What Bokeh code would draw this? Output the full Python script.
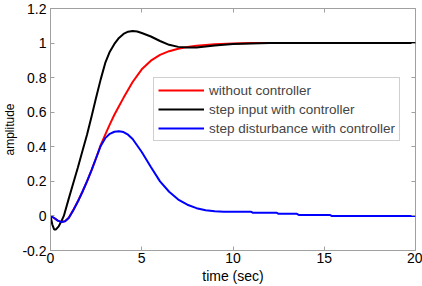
from bokeh.plotting import figure
from bokeh.models import LinearAxis, FixedTicker, Legend, LegendItem
from bokeh.embed import file_html
from bokeh.resources import INLINE

# ---- data ----
t_red = [0, 0.2, 0.4, 0.6, 0.8, 1.0, 1.25, 1.5, 1.75, 2.0, 2.25, 2.5, 2.75, 3.0, 3.25, 3.5,
         3.75, 4.0, 4.5, 5.0, 5.5, 6.0, 6.5, 7.0, 7.5, 8.0, 9.0, 10.0, 11.0, 20.0]
y_red = [0, -0.012, -0.027, -0.035, -0.03, -0.01, 0.035, 0.085, 0.14, 0.2, 0.265, 0.335,
         0.41, 0.47, 0.53, 0.585, 0.635, 0.683, 0.775, 0.848, 0.898, 0.932, 0.953, 0.967,
         0.977, 0.985, 0.993, 0.998, 1.0, 1.0]

t_black = [0, 0.1, 0.2, 0.3, 0.45, 0.6, 0.73, 1.0, 1.25, 1.5, 1.75, 2.0, 2.25, 2.5, 2.75,
           3.0, 3.25, 3.5, 3.75, 4.0, 4.25, 4.5, 4.75, 5.0, 5.5, 6.0, 6.5, 7.0, 7.5, 8.0,
           8.5, 9.0, 10.0, 11.0, 12.0, 20.0]
y_black = [0, -0.05, -0.078, -0.078, -0.06, -0.03, 0.0, 0.1, 0.19, 0.28, 0.375, 0.47, 0.575,
           0.685, 0.79, 0.885, 0.95, 0.995, 1.03, 1.053, 1.066, 1.07, 1.067, 1.058, 1.038,
           1.012, 0.99, 0.978, 0.974, 0.975, 0.98, 0.986, 0.994, 0.998, 1.0, 1.0]

t_blue = [0, 0.2, 0.4, 0.6, 0.8, 1.0, 1.25, 1.5, 1.75, 2.0, 2.25, 2.5, 2.75, 3.0, 3.25, 3.5,
          3.75, 4.0, 4.25, 4.5, 5.0, 5.5, 6.0, 6.5, 7.0, 7.5, 8.0, 8.5, 9.0, 9.5, 11.0, 11.1,
          12.4, 12.5, 13.5, 13.6, 15.3, 15.4, 20.0]
y_blue = [0, -0.012, -0.027, -0.036, -0.031, -0.012, 0.033, 0.083, 0.14, 0.2, 0.265, 0.335,
          0.405, 0.45, 0.475, 0.487, 0.49, 0.485, 0.47, 0.445, 0.37, 0.283, 0.2, 0.14,
          0.095, 0.065, 0.045, 0.033, 0.027, 0.024, 0.024, 0.018, 0.018, 0.012, 0.012,
          0.006, 0.006, 0.0, 0.0]

x_ticks = [0, 5, 10, 15, 20]
y_ticks = [-0.2, 0, 0.2, 0.4, 0.6, 0.8, 1.0, 1.2]
y_tick_labels = ["-0.2", "0", "0.2", "0.4", "0.6", "0.8", "1", "1.2"]

series_names = ["without controller", "step input with controller",
                "step disturbance with controller"]

FONT = "Liberation Sans"
FRAME = "#a0a0a0"

p = figure(width=422, height=286, x_range=(0, 20), y_range=(-0.2, 1.2),
           output_backend="svg", toolbar_location=None,
           min_border_left=50, min_border_right=7, min_border_top=8, min_border_bottom=36,
           x_axis_label="time (sec)", y_axis_label="amplitude")
p.xgrid.visible = False
p.ygrid.visible = False
p.outline_line_color = FRAME
p.outline_line_width = 1
p.background_fill_color = "white"
p.border_fill_color = "white"

for ax in (p.xaxis[0], p.yaxis[0]):
    ax.axis_line_color = FRAME
    ax.major_tick_line_color = FRAME
    ax.major_tick_in = 4
    ax.major_tick_out = 0
    ax.minor_tick_line_color = None
    ax.major_label_text_font = FONT
    ax.major_label_text_font_size = "14px"
    ax.major_label_text_color = "black"
    ax.axis_label_text_font = FONT
    ax.axis_label_text_font_style = "normal"
    ax.axis_label_text_color = "black"

p.xaxis[0].ticker = FixedTicker(ticks=x_ticks)
p.yaxis[0].ticker = FixedTicker(ticks=y_ticks)
p.yaxis[0].major_label_overrides = {v: s for v, s in zip(y_ticks, y_tick_labels)}
p.xaxis[0].axis_label_text_font_size = "14px"
p.yaxis[0].axis_label_text_font_size = "12px"
p.xaxis[0].major_label_standoff = 2
p.xaxis[0].axis_label_standoff = 2
p.yaxis[0].major_label_standoff = 4
p.yaxis[0].axis_label_standoff = 2

# mirrored tick marks on right and top (no labels)
ax_r = LinearAxis(ticker=FixedTicker(ticks=y_ticks), major_tick_in=4, major_tick_out=0,
                  major_label_text_color=None, major_label_text_font_size="1px",
                  major_label_standoff=0, axis_line_color=None,
                  major_tick_line_color=FRAME, minor_tick_line_color=None)
ax_t = LinearAxis(ticker=FixedTicker(ticks=x_ticks), major_tick_in=4, major_tick_out=0,
                  major_label_text_color=None, major_label_text_font_size="1px",
                  major_label_standoff=0, axis_line_color=None,
                  major_tick_line_color=FRAME, minor_tick_line_color=None)
p.add_layout(ax_r, "right")
p.add_layout(ax_t, "above")

r1 = p.line(t_red, y_red, line_color="#ff0000", line_width=2)
r2 = p.line(t_black, y_black, line_color="black", line_width=2)
r3 = p.line(t_blue, y_blue, line_color="#0000ff", line_width=2)

legend = Legend(items=[LegendItem(label=series_names[0], renderers=[r1]),
                       LegendItem(label=series_names[1], renderers=[r2]),
                       LegendItem(label=series_names[2], renderers=[r3])],
                location=(103, 109), orientation="vertical",
                label_text_font=FONT, label_text_font_size="13.5px",
                label_height=16, glyph_height=16, glyph_width=46,
                label_standoff=5, spacing=3, padding=4, margin=0,
                border_line_color=FRAME, border_line_width=1,
                background_fill_color="white", background_fill_alpha=1)
p.add_layout(legend, "center")

open("out.html", "w").write(file_html(p, INLINE))
